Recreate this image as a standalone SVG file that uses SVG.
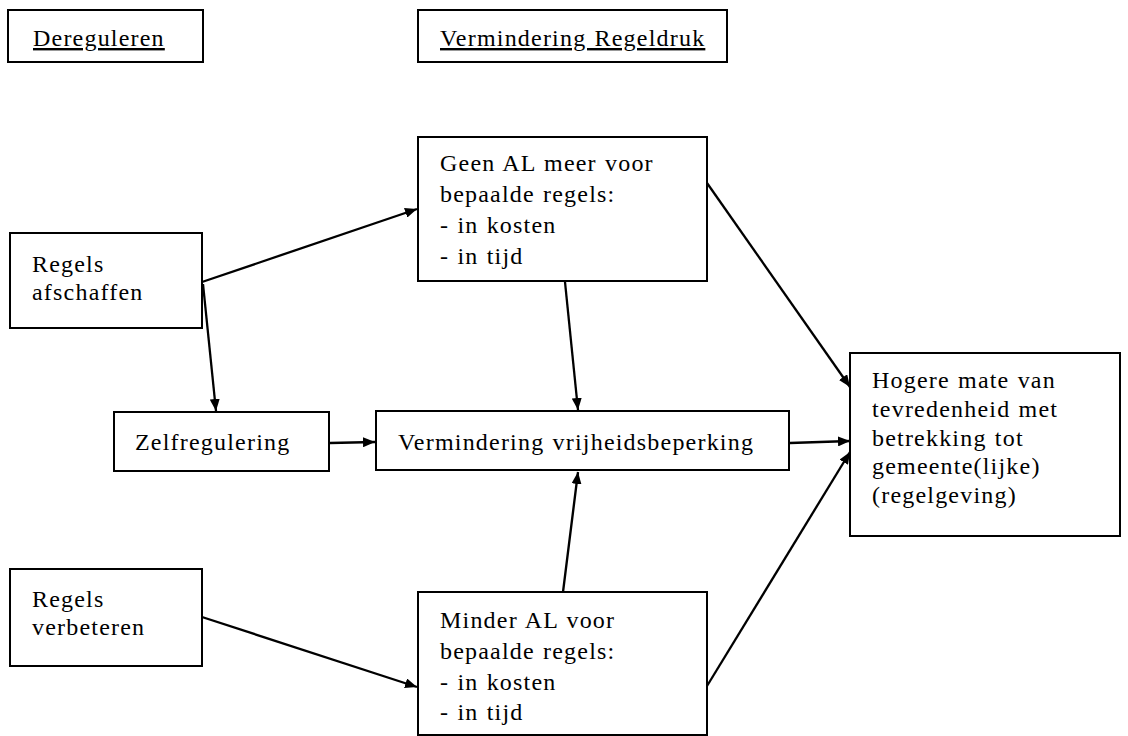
<svg xmlns="http://www.w3.org/2000/svg" width="1128" height="736" viewBox="0 0 1128 736">
<style>
.box{fill:#fff;stroke:#000;stroke-width:2}
.t{font-family:"Liberation Serif","Times New Roman",serif;font-size:24px;letter-spacing:1.2px;word-spacing:1px;fill:#000}
.u{text-decoration:underline}
.c{stroke:#000;stroke-width:2.3;fill:none;marker-end:url(#ah)}
</style>
<defs>
<marker id="ah" viewBox="0 0 12 10" refX="12" refY="5" markerWidth="12" markerHeight="10" markerUnits="userSpaceOnUse" orient="auto">
<path d="M0,0 L12,5 L0,10 Z" fill="#000"/>
</marker>
</defs>
<rect width="1128" height="736" fill="#fff"/>
<g id="connectors">
<line class="c" x1="202" y1="282" x2="417" y2="209"/>
<line class="c" x1="203" y1="284" x2="216" y2="411"/>
<line class="c" x1="565" y1="282" x2="578" y2="410"/>
<line class="c" x1="563" y1="592" x2="578" y2="472"/>
<line class="c" x1="330" y1="443" x2="375" y2="442"/>
<line class="c" x1="790" y1="443" x2="850" y2="441"/>
<line class="c" x1="707" y1="183" x2="850" y2="387"/>
<line class="c" x1="707" y1="686" x2="850" y2="452"/>
<line class="c" x1="202" y1="617" x2="417" y2="687"/>
</g>
<g id="dereguleren">
<rect class="box" x="8" y="10" width="195" height="52"/>
<text class="t u" x="33" y="46">Dereguleren</text>
</g>
<g id="vermindering-regeldruk">
<rect class="box" x="418" y="10" width="309" height="52"/>
<text class="t u" x="440" y="46">Vermindering Regeldruk</text>
</g>
<g id="regels-afschaffen">
<rect class="box" x="10" y="233" width="192" height="95"/>
<text class="t" x="32" y="272">Regels</text>
<text class="t" x="32" y="300">afschaffen</text>
</g>
<g id="geen-al">
<rect class="box" x="418" y="137" width="289" height="144"/>
<text class="t" x="440" y="171">Geen AL meer voor</text>
<text class="t" x="440" y="202">bepaalde regels:</text>
<text class="t" x="440" y="233">- in kosten</text>
<text class="t" x="440" y="264">- in tijd</text>
</g>
<g id="zelfregulering">
<rect class="box" x="114" y="412" width="215" height="59"/>
<text class="t" x="135" y="450">Zelfregulering</text>
</g>
<g id="vermindering-vrijheidsbeperking">
<rect class="box" x="376" y="411" width="413" height="59"/>
<text class="t" x="398" y="450">Vermindering vrijheidsbeperking</text>
</g>
<g id="hogere-mate">
<rect class="box" x="850" y="353" width="270" height="183"/>
<text class="t" x="872" y="388">Hogere mate van</text>
<text class="t" x="872" y="417">tevredenheid met</text>
<text class="t" x="872" y="446">betrekking tot</text>
<text class="t" x="872" y="474">gemeente(lijke)</text>
<text class="t" x="872" y="503">(regelgeving)</text>
</g>
<g id="regels-verbeteren">
<rect class="box" x="10" y="569" width="192" height="97"/>
<text class="t" x="32" y="607">Regels</text>
<text class="t" x="32" y="635">verbeteren</text>
</g>
<g id="minder-al">
<rect class="box" x="418" y="592" width="289" height="143"/>
<text class="t" x="440" y="628">Minder AL voor</text>
<text class="t" x="440" y="659">bepaalde regels:</text>
<text class="t" x="440" y="690">- in kosten</text>
<text class="t" x="440" y="720">- in tijd</text>
</g>
</svg>
